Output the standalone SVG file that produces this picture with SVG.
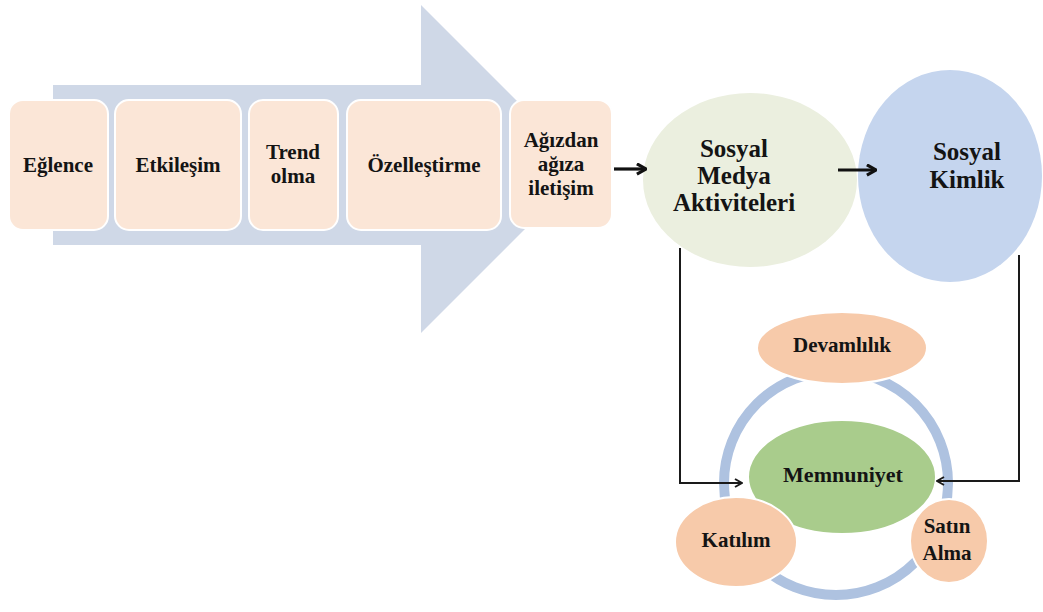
<svg xmlns="http://www.w3.org/2000/svg" width="1043" height="612" viewBox="0 0 1043 612">
<defs>
<style>
.t{font-weight:bold;fill:#141414;text-anchor:middle}
.box{fill:#FBE6D7;stroke:#ffffff;stroke-width:2}
.peach{fill:#F7CAAA;stroke:#ffffff;stroke-width:2}
.con{fill:none;stroke:#1a1a1a;stroke-width:2}
.big{fill:none;stroke:#111;stroke-width:3.2}
</style>
<marker id="ah" viewBox="0 0 10 10" refX="9" refY="5" markerWidth="10" markerHeight="10" markerUnits="userSpaceOnUse" orient="auto">
<path d="M2,1 L9,5 L2,9" fill="none" stroke="#1a1a1a" stroke-width="2"/>
</marker>
<marker id="ahb" viewBox="0 0 10 10" refX="9" refY="5" markerWidth="13" markerHeight="13" markerUnits="userSpaceOnUse" orient="auto">
<path d="M2,1 L9,5 L2,9" fill="none" stroke="#111" stroke-width="2.4"/>
</marker>
</defs>
<rect width="1043" height="612" fill="#ffffff"/>
<g id="bigArrow">
<polygon points="53,85 421,85 421,5 585,169 421,333 421,245 53,245" fill="#CFD8E7"/>
</g>
<g font-family="Liberation Serif, DejaVu Serif, serif">
<g id="eglence"><rect class="box" x="9" y="100" width="99" height="130" rx="14"/><text class="t" x="58" y="172" font-size="21">Eğlence</text></g>
<g id="etkilesim"><rect class="box" x="115" y="100" width="126" height="130" rx="14"/><text class="t" x="178" y="172" font-size="21">Etkileşim</text></g>
<g id="trend"><rect class="box" x="249" y="100" width="89" height="130" rx="14"/><text class="t" x="293" y="159" font-size="21">Trend</text><text class="t" x="293" y="183" font-size="21">olma</text></g>
<g id="ozellestirme"><rect class="box" x="347" y="100" width="154" height="130" rx="14"/><text class="t" x="424" y="172" font-size="21">Özelleştirme</text></g>
<g id="agizdan"><rect class="box" x="510" y="100" width="102" height="128" rx="14"/><text class="t" x="561" y="147" font-size="21">Ağızdan</text><text class="t" x="561" y="171" font-size="21">ağıza</text><text class="t" x="561" y="195" font-size="21">iletişim</text></g>
<g id="sosyalMedya"><ellipse cx="750" cy="180" rx="107" ry="87" fill="#EBEFDF"/><text class="t" x="734" y="157" font-size="25">Sosyal</text><text class="t" x="734" y="184" font-size="25">Medya</text><text class="t" x="734" y="211" font-size="25">Aktiviteleri</text></g>
<g id="sosyalKimlik"><ellipse cx="950" cy="176" rx="92" ry="106" fill="#C5D5EE"/><text class="t" x="967" y="160" font-size="25">Sosyal</text><text class="t" x="967" y="188" font-size="25">Kimlik</text></g>
<g id="ring"><circle cx="836" cy="483" r="112" fill="none" stroke="#AEC2E0" stroke-width="10"/></g>
<g id="devamlilik"><ellipse class="peach" cx="842" cy="348" rx="85" ry="36"/><text class="t" x="842" y="352" font-size="21">Devamlılık</text></g>
<g id="memnuniyet"><ellipse cx="842" cy="477" rx="94" ry="57" fill="#A9CC8C" stroke="#ffffff" stroke-width="2"/><text class="t" x="843" y="482" font-size="22">Memnuniyet</text></g>
<g id="katilim"><ellipse class="peach" cx="736" cy="542" rx="61" ry="45"/><text class="t" x="736" y="547" font-size="21">Katılım</text></g>
<g id="satinAlma"><ellipse class="peach" cx="949" cy="541" rx="39" ry="42"/><text class="t" x="947" y="533" font-size="21">Satın</text><text class="t" x="947" y="560" font-size="21">Alma</text></g>
</g>
<g id="connectors">
<line class="big" x1="614" y1="169" x2="646" y2="169" marker-end="url(#ahb)"/>
<line class="big" x1="838" y1="170" x2="876" y2="170" marker-end="url(#ahb)"/>
<polyline class="con" points="680,248 680,483 742,483" marker-end="url(#ah)"/>
<polyline class="con" points="1019,255 1019,481 937,481" marker-end="url(#ah)"/>
</g>
</svg>
